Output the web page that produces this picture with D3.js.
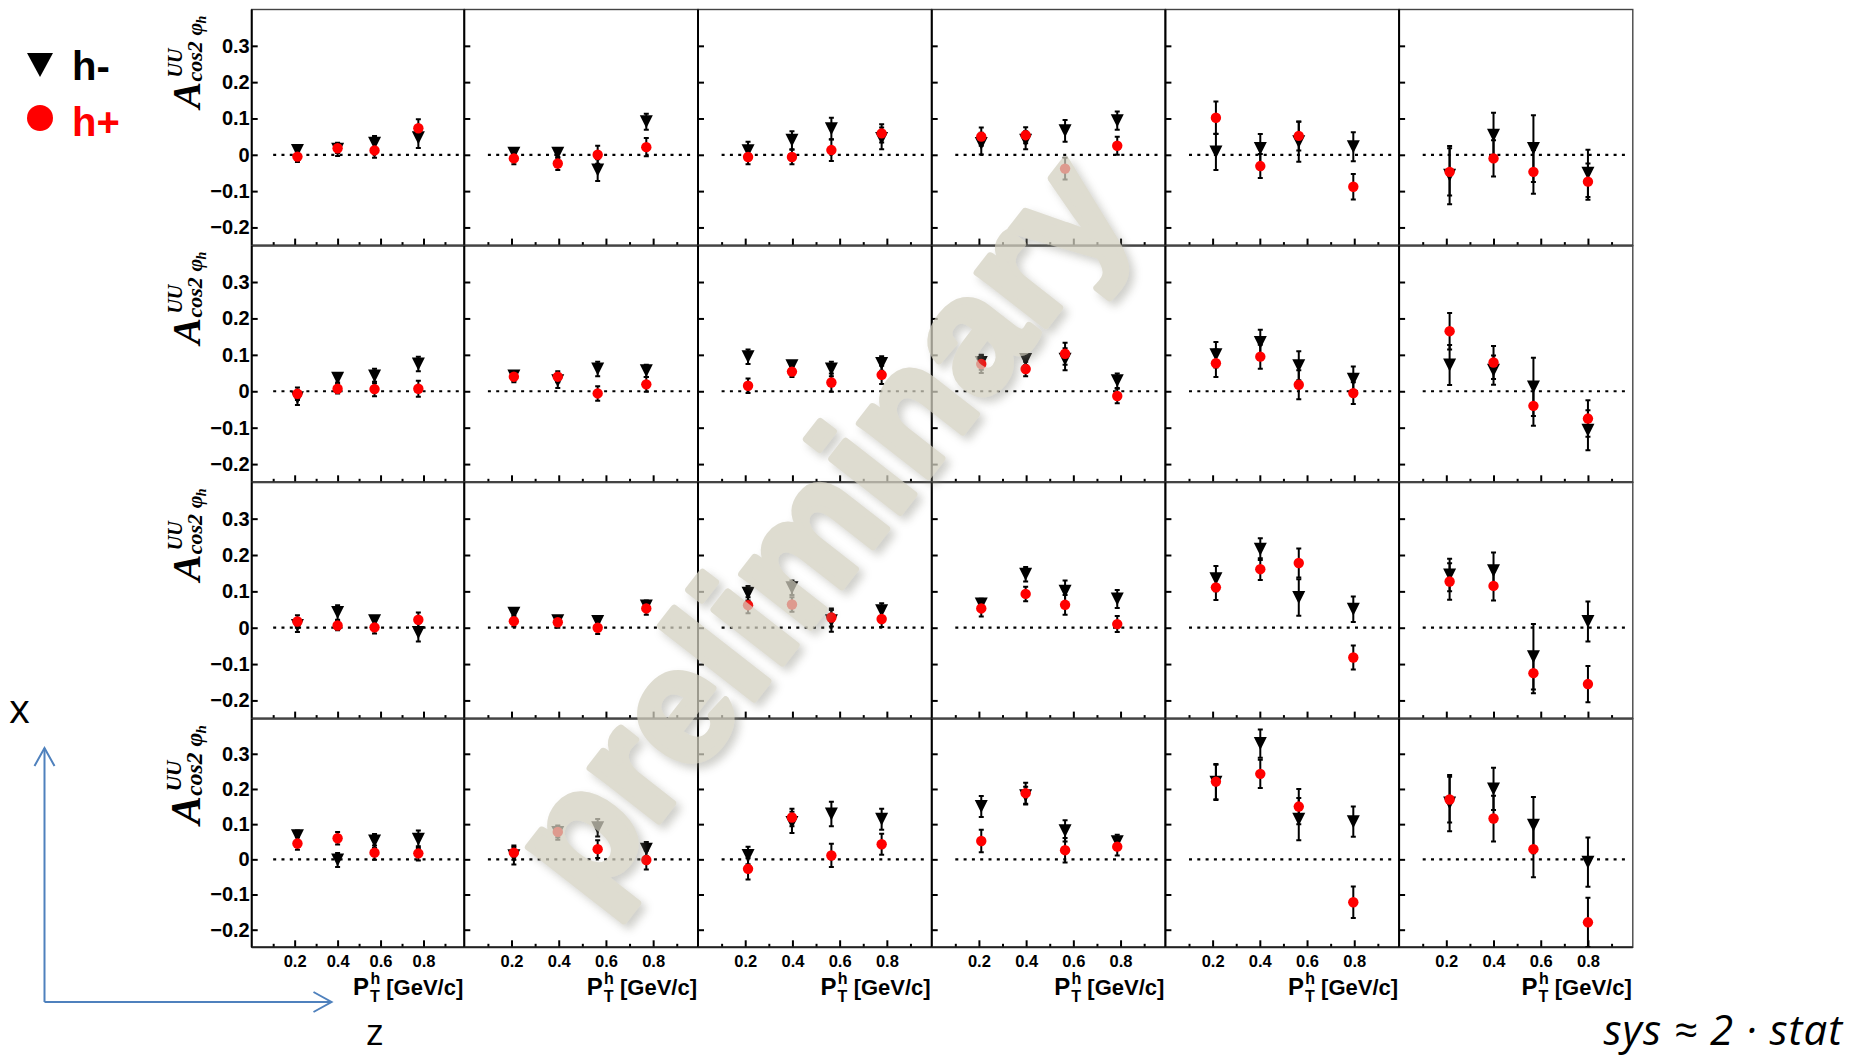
<!DOCTYPE html>
<html>
<head>
<meta charset="utf-8">
<script src="https://cdn.jsdelivr.net/npm/d3@7"></script>
<style>
  body { margin: 0; background: #fff; }
  svg { display: block; }
</style>
</head>
<body>
<svg id="chart" width="1859" height="1057"></svg>
<script>
// A^{UU}_{cos2phi_h} vs P_T^h, rows = x bins (top = highest x), columns = z bins (left = lowest z)

const yTicks = [-0.2, -0.1, 0, 0.1, 0.2, 0.3];
const xMajorTicks = [0.2, 0.4, 0.6, 0.8];
const xMinorTicks = [0.1, 0.3, 0.5, 0.7, 0.9];

// mean P_T^h of the four points, per z column
const ptMean = [
  [0.213, 0.400, 0.572, 0.776],
  [0.210, 0.396, 0.565, 0.771],
  [0.212, 0.398, 0.565, 0.778],
  [0.210, 0.398, 0.565, 0.786],
  [0.214, 0.402, 0.565, 0.796],
  [0.214, 0.400, 0.569, 0.800]
];

// h- values [row][column][point]
const hMinusVal = [
  [[0.012, 0.015, 0.032, 0.047], [0.004, 0.004, -0.042, 0.091], [0.011, 0.040, 0.072, 0.045],
   [0.031, 0.040, 0.066, 0.094], [0.008, 0.017, 0.036, 0.022], [-0.056, 0.054, 0.017, -0.051]],
  [[-0.018, 0.036, 0.042, 0.075], [0.042, 0.029, 0.061, 0.056], [0.095, 0.070, 0.061, 0.076],
   [0.079, 0.087, 0.088, 0.029], [0.100, 0.134, 0.070, 0.033], [0.072, 0.058, 0.012, -0.107]],
  [[0.006, 0.042, 0.019, -0.013], [0.040, 0.019, 0.017, 0.060], [0.095, 0.110, 0.019, 0.047],
   [0.065, 0.147, 0.100, 0.079], [0.135, 0.216, 0.083, 0.051], [0.145, 0.157, -0.080, 0.017]],
  [[0.067, -0.002, 0.052, 0.057], [0.010, 0.076, 0.090, 0.029], [0.011, 0.105, 0.129, 0.114],
   [0.150, 0.181, 0.081, 0.050], [0.219, 0.329, 0.114, 0.107], [0.160, 0.200, 0.097, -0.008]]
];
const hMinusErr = [
  [[0.012, 0.018, 0.020, 0.028], [0.012, 0.013, 0.030, 0.022], [0.025, 0.025, 0.030, 0.030],
   [0.030, 0.025, 0.030, 0.025], [0.050, 0.040, 0.055, 0.040], [0.080, 0.062, 0.092, 0.065]],
  [[0.020, 0.012, 0.020, 0.020], [0.013, 0.020, 0.020, 0.017], [0.020, 0.012, 0.020, 0.020],
   [0.020, 0.015, 0.030, 0.020], [0.035, 0.035, 0.040, 0.035], [0.055, 0.040, 0.080, 0.055]],
  [[0.018, 0.020, 0.012, 0.025], [0.012, 0.012, 0.012, 0.015], [0.020, 0.020, 0.030, 0.020],
   [0.015, 0.020, 0.030, 0.025], [0.035, 0.030, 0.050, 0.035], [0.045, 0.050, 0.090, 0.055]],
  [[0.015, 0.020, 0.020, 0.025], [0.025, 0.020, 0.025, 0.020], [0.025, 0.030, 0.035, 0.030],
   [0.030, 0.025, 0.030, 0.020], [0.050, 0.040, 0.060, 0.043], [0.080, 0.060, 0.080, 0.070]]
];

// h+ values [row][column][point]
const hPlusVal = [
  [[-0.005, 0.018, 0.012, 0.073], [-0.010, -0.024, 0.000, 0.021], [-0.006, -0.006, 0.013, 0.059],
   [0.050, 0.054, -0.038, 0.025], [0.102, -0.031, 0.052, -0.088], [-0.047, -0.010, -0.047, -0.074]],
  [[-0.007, 0.007, 0.006, 0.007], [0.040, 0.040, -0.006, 0.019], [0.015, 0.054, 0.024, 0.045],
   [0.075, 0.061, 0.103, -0.013], [0.077, 0.095, 0.018, -0.005], [0.165, 0.079, -0.040, -0.075]],
  [[0.017, 0.006, 0.001, 0.022], [0.018, 0.015, 0.000, 0.053], [0.062, 0.064, 0.028, 0.024],
   [0.053, 0.093, 0.063, 0.010], [0.111, 0.161, 0.178, -0.082], [0.127, 0.115, -0.125, -0.155]],
  [[0.045, 0.060, 0.019, 0.017], [0.019, 0.078, 0.029, -0.002], [-0.027, 0.119, 0.011, 0.043],
   [0.052, 0.188, 0.026, 0.036], [0.221, 0.243, 0.150, -0.122], [0.170, 0.116, 0.029, -0.179]]
];
const hPlusErr = [
  [[0.015, 0.013, 0.020, 0.025], [0.016, 0.018, 0.025, 0.025], [0.020, 0.020, 0.030, 0.025],
   [0.025, 0.022, 0.030, 0.025], [0.045, 0.033, 0.040, 0.035], [0.065, 0.050, 0.060, 0.050]],
  [[0.017, 0.013, 0.020, 0.022], [0.015, 0.015, 0.020, 0.020], [0.020, 0.015, 0.025, 0.025],
   [0.025, 0.020, 0.030, 0.020], [0.038, 0.033, 0.040, 0.030], [0.050, 0.045, 0.055, 0.050]],
  [[0.017, 0.013, 0.017, 0.020], [0.015, 0.015, 0.017, 0.017], [0.022, 0.020, 0.025, 0.022],
   [0.022, 0.020, 0.027, 0.022], [0.035, 0.030, 0.040, 0.033], [0.050, 0.040, 0.055, 0.050]],
  [[0.018, 0.018, 0.020, 0.020], [0.020, 0.015, 0.025, 0.027], [0.030, 0.025, 0.033, 0.030],
   [0.032, 0.030, 0.035, 0.025], [0.050, 0.040, 0.050, 0.045], [0.065, 0.065, 0.080, 0.070]]
];

const series = [
  { name: "h-", val: hMinusVal, err: hMinusErr, color: "#000000", shape: "triangle" },
  { name: "h+", val: hPlusVal, err: hPlusErr, color: "#ff0000", shape: "circle" }
];

// pad grid
const colEdges = [251.7, 464.3, 698.0, 931.7, 1165.4, 1399.1, 1632.8];
const rowEdges = [9.5, 245.6, 482.3, 718.6, 947.3];
const xDomain = [0, 0.99];
const yDomain = [-0.25, 0.4];

const svg = d3.select("#chart");
svg.append("rect").attr("width", 1859).attr("height", 1057).attr("fill", "#fff");

const defs = svg.append("defs");
const shadow = defs.append("filter").attr("id", "wmShadow")
  .attr("x", "-10%").attr("y", "-10%").attr("width", "120%").attr("height", "120%");
shadow.append("feDropShadow").attr("dx", 5).attr("dy", 5).attr("stdDeviation", 4)
  .attr("flood-color", "#8a8a80").attr("flood-opacity", 0.55);

const tickFont = "'Liberation Sans', Arial, Helvetica, sans-serif";
const fmtY = v => v === 0 ? "0" : d3.format(".1f")(v);

const triPath = (cx, cy, w, h) =>
  `M${cx - w / 2},${cy - h / 2}L${cx + w / 2},${cy - h / 2}L${cx},${cy + h / 2}Z`;

for (let r = 0; r < 4; r++) {
  for (let c = 0; c < 6; c++) {
    const x = d3.scaleLinear().domain(xDomain).range([colEdges[c], colEdges[c + 1]]);
    const y = d3.scaleLinear().domain(yDomain).range([rowEdges[r + 1], rowEdges[r]]);
    const g = svg.append("g").attr("class", `pad r${r} c${c}`);

    // frame
    g.append("rect")
      .attr("x", colEdges[c]).attr("y", rowEdges[r])
      .attr("width", colEdges[c + 1] - colEdges[c])
      .attr("height", rowEdges[r + 1] - rowEdges[r])
      .attr("fill", "none").attr("stroke", "#444").attr("stroke-width", 1.4);

    // zero reference line
    g.append("line")
      .attr("x1", x(0.1)).attr("x2", x(0.97))
      .attr("y1", y(0)).attr("y2", y(0))
      .attr("stroke", "#000").attr("stroke-width", 2.2)
      .attr("stroke-dasharray", "3,5.3");

    // y ticks (inward)
    const yAx = g.append("g").attr("transform", `translate(${colEdges[c]},0)`)
      .call(d3.axisRight(y).tickValues(yTicks).tickSize(6).tickFormat(""));
    yAx.select(".domain").remove();
    yAx.selectAll("line").attr("stroke", "#000").attr("stroke-width", 2);

    if (c === 0) {
      const yLab = g.append("g").attr("transform", `translate(${colEdges[c] - 1},0)`)
        .call(d3.axisLeft(y).tickValues(yTicks).tickSize(0).tickPadding(1).tickFormat(fmtY));
      yLab.select(".domain").remove();
      yLab.selectAll("text")
        .attr("font-family", tickFont).attr("font-weight", "bold")
        .attr("font-size", 20).attr("fill", "#000");
    }

    // x ticks (inward from the bottom)
    const xAxMaj = g.append("g").attr("transform", `translate(0,${rowEdges[r + 1]})`)
      .call(d3.axisTop(x).tickValues(xMajorTicks).tickSize(7).tickFormat(""));
    xAxMaj.select(".domain").remove();
    xAxMaj.selectAll("line").attr("stroke", "#000").attr("stroke-width", 2);
    const xAxMin = g.append("g").attr("transform", `translate(0,${rowEdges[r + 1]})`)
      .call(d3.axisTop(x).tickValues(xMinorTicks).tickSize(3.5).tickFormat(""));
    xAxMin.select(".domain").remove();
    xAxMin.selectAll("line").attr("stroke", "#000").attr("stroke-width", 2);

    // axis lines
    g.append("line").attr("x1", colEdges[c]).attr("x2", colEdges[c])
      .attr("y1", rowEdges[r]).attr("y2", rowEdges[r + 1])
      .attr("stroke", "#000").attr("stroke-width", 2);
    g.append("line").attr("x1", colEdges[c]).attr("x2", colEdges[c + 1])
      .attr("y1", rowEdges[r + 1]).attr("y2", rowEdges[r + 1])
      .attr("stroke", "#222").attr("stroke-width", 2);

    if (r === 3) {
      const xLab = g.append("g").attr("transform", `translate(0,${rowEdges[r + 1]})`)
        .call(d3.axisBottom(x).tickValues(xMajorTicks).tickSize(0).tickPadding(8).tickFormat(d3.format(".1f")));
      xLab.select(".domain").remove();
      xLab.selectAll("text")
        .attr("font-family", tickFont).attr("font-weight", "bold")
        .attr("font-size", 16.5).attr("fill", "#000");

      // P_T^h [GeV/c]
      const t = g.append("text")
        .attr("x", colEdges[c + 1] - 1).attr("y", 995)
        .attr("text-anchor", "end")
        .attr("font-family", tickFont).attr("font-weight", "bold")
        .attr("font-size", 22).attr("fill", "#000");
      t.append("tspan").attr("font-size", 24).text("P");
      t.append("tspan").attr("font-size", 16).attr("dx", 1).attr("dy", 7).text("T");
      t.append("tspan").attr("font-size", 16).attr("dx", -9.5).attr("dy", -18).text("h");
      t.append("tspan").attr("dy", 11).text(" [GeV/c]");
    }

    // data
    const clipId = `clip-${r}-${c}`;
    defs.append("clipPath").attr("id", clipId).append("rect")
      .attr("x", colEdges[c]).attr("y", rowEdges[r])
      .attr("width", colEdges[c + 1] - colEdges[c])
      .attr("height", rowEdges[r + 1] - rowEdges[r]);
    const dg = g.append("g").attr("clip-path", `url(#${clipId})`);

    series.forEach(s => {
      const pts = ptMean[c].map((pt, i) => ({ pt, v: s.val[r][c][i], e: s.err[r][c][i] }));
      const eg = dg.append("g").attr("class", `err ${s.name}`);
      pts.forEach(p => {
        const xp = x(p.pt), y1 = y(p.v + p.e), y2 = y(p.v - p.e);
        eg.append("line").attr("x1", xp).attr("x2", xp).attr("y1", y1).attr("y2", y2)
          .attr("stroke", "#000").attr("stroke-width", 2);
        [y1, y2].forEach(yy => eg.append("line")
          .attr("x1", xp - 2.5).attr("x2", xp + 2.5).attr("y1", yy).attr("y2", yy)
          .attr("stroke", "#000").attr("stroke-width", 2));
      });
      const mg = dg.append("g").attr("class", `markers ${s.name}`);
      if (s.shape === "triangle") {
        mg.selectAll("path").data(pts).join("path")
          .attr("d", p => triPath(x(p.pt), y(p.v), 13, 13))
          .attr("fill", s.color);
      } else {
        mg.selectAll("circle").data(pts).join("circle")
          .attr("cx", p => x(p.pt)).attr("cy", p => y(p.v)).attr("r", 5.2)
          .attr("fill", s.color);
      }
    });
  }

  // y-axis title A^{UU}_{cos2 phi_h}
  const sc = r === 3 ? 1.07 : 1;
  const tg = svg.append("g")
    .attr("transform", `translate(200,${rowEdges[r] + 99 * sc}) rotate(-90) scale(${sc})`)
    .attr("font-family", "'Liberation Serif', 'Times New Roman', serif")
    .attr("font-weight", "bold").attr("font-style", "italic").attr("fill", "#000");
  tg.append("text").attr("x", 0).attr("y", 0).attr("font-size", 40).text("A");
  tg.append("text").attr("x", 27).attr("y", 2).attr("font-size", 22).text("cos2");
  tg.append("text").attr("x", 31).attr("y", -18).attr("font-size", 20).text("UU");
  tg.append("text").attr("x", 73).attr("y", 2).attr("font-size", 22).text("φ");
  tg.append("text").attr("x", 85).attr("y", 6).attr("font-size", 14).text("h");
}

// watermark (semi-transparent, drawn over the pads)
svg.append("g").attr("opacity", 0.74).attr("filter", "url(#wmShadow)")
  .append("text")
  .attr("transform", "translate(828,534) rotate(-52)")
  .attr("text-anchor", "middle").attr("dominant-baseline", "middle")
  .attr("font-family", "'Liberation Sans', Arial, sans-serif").attr("font-weight", "bold")
  .attr("font-size", 164).attr("fill", "#d3d0c0")
  .attr("stroke", "#d3d0c0").attr("stroke-width", 7).attr("stroke-linejoin", "round")
  .text("preliminary");

// legend
const lg = svg.append("g").attr("class", "legend");
lg.append("path").attr("d", triPath(40, 65, 26, 24)).attr("fill", "#000");
lg.append("text").attr("x", 72).attr("y", 80)
  .attr("font-family", tickFont).attr("font-weight", "bold").attr("font-size", 40)
  .attr("fill", "#000").text("h-");
lg.append("circle").attr("cx", 40).attr("cy", 118).attr("r", 13).attr("fill", "#ff0000");
lg.append("text").attr("x", 72).attr("y", 136)
  .attr("font-family", tickFont).attr("font-weight", "bold").attr("font-size", 40)
  .attr("fill", "#ff0000").text("h+");

// binning arrows: x upward, z to the right
const arrowColor = "#4f81bd";
const ag = svg.append("g").attr("fill", "none").attr("stroke", arrowColor).attr("stroke-width", 2);
ag.append("path").attr("d", "M44.5,1002V748");
ag.append("path").attr("d", "M34.5,766L44.5,748L54.5,766");
ag.append("path").attr("d", "M44.5,1002H331.5");
ag.append("path").attr("d", "M313.5,992L331.5,1002L313.5,1012");
svg.append("text").attr("x", 9).attr("y", 723)
  .attr("font-family", "'Open Sans', sans-serif").attr("font-size", 40).attr("fill", "#000").text("x");
svg.append("text").attr("x", 366).attr("y", 1045)
  .attr("font-family", "'Open Sans', sans-serif").attr("font-size", 37).attr("fill", "#000").text("z");

// systematic uncertainty note
svg.append("text").attr("x", 1843).attr("y", 1045)
  .attr("text-anchor", "end")
  .attr("font-family", "'Open Sans', sans-serif").attr("font-style", "italic")
  .attr("font-size", 42).attr("letter-spacing", 1).attr("fill", "#000")
  .text("sys ≈ 2 · stat");
</script>
</body>
</html>
